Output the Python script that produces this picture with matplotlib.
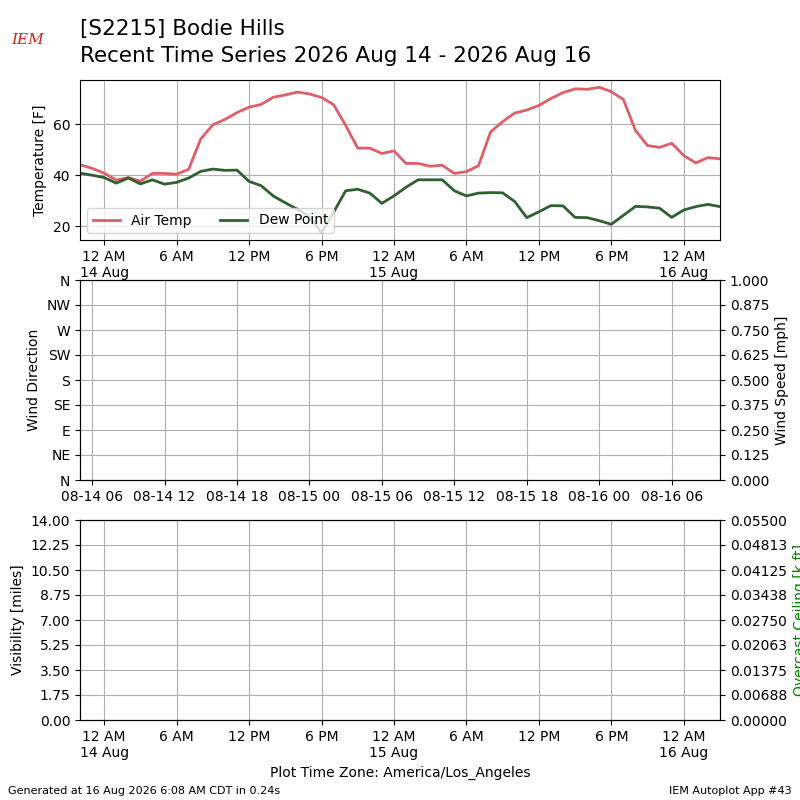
"""Recent time series for S2215 Bodie Hills"""

from datetime import timedelta, timezone

import matplotlib
matplotlib.use('Agg')
import matplotlib.dates as mdates
import matplotlib.pyplot as plt
import matplotlib.ticker as mticker
import pandas as pd

PDT = timezone(timedelta(hours=-7), 'PDT')

# hourly obs, local time, starting 13 Aug 22:00
valid = pd.date_range('2026-08-13 22:00', periods=54, freq='h', tz=PDT)
air_temp = [
    44.1, 42.7,
    40.8, 38.1, 39.1, 37.7, 40.7, 40.7, 40.4, 42.3, 54.2, 59.7, 61.8, 64.5,
    66.6, 67.7, 70.5, 71.4, 72.5, 71.8, 70.4, 67.6, 59.5, 50.6, 50.6, 48.5,
    49.5, 44.6, 44.6, 43.5, 43.9, 40.7, 41.4, 43.7, 56.9, 61.0, 64.3, 65.5,
    67.3, 70.0, 72.3, 73.8, 73.6, 74.4, 72.7, 69.6, 57.5, 51.6, 50.9, 52.5,
    47.7, 44.8, 46.9, 46.4,
]
dew_point = [
    40.8, 40.0,
    39.1, 36.9, 38.9, 36.6, 38.2, 36.5, 37.2, 38.9, 41.5, 42.4, 41.9, 42.0,
    37.6, 35.9, 31.9, 29.2, 26.7, 23.8, 17.5, 25.5, 33.9, 34.5, 33.0, 29.0,
    31.9, 35.3, 38.2, 38.2, 38.2, 33.9, 31.9, 33.0, 33.2, 33.1, 29.7, 23.4,
    25.7, 28.1, 28.0, 23.5, 23.4, 22.2, 20.8, 24.3, 27.8, 27.6, 27.1, 23.5,
    26.4, 27.7, 28.6, 27.7,
]
wind_dir_labels = ['N', 'NE', 'E', 'SE', 'S', 'SW', 'W', 'NW', 'N']


def local_fmt(x, pos=None):
    """12 AM with date, else hour only"""
    dt = mdates.num2date(x, tz=PDT)
    if dt.hour == 0:
        return dt.strftime('12 AM\n%-d %b')
    return dt.strftime('%-I %p')


def local_axis(ax):
    """Local time ticks"""
    ax.xaxis.set_major_locator(
        mdates.HourLocator(byhour=[0, 6, 12, 18], tz=PDT))
    ax.xaxis.set_major_formatter(mticker.FuncFormatter(local_fmt))


fig = plt.figure(figsize=(8, 8), dpi=100)

fig.text(0.1, 0.976, '[S2215] Bodie Hills\n'
         'Recent Time Series 2026 Aug 14 - 2026 Aug 16',
         fontsize=15.5, va='top', ha='left', linespacing=1.4)
fig.text(0.035, 0.945, 'IEM', color='#cc2222', fontsize=11,
         style='italic', family='serif', ha='center')

xmin = mdates.date2num(valid[0].to_pydatetime())
xmax = mdates.date2num(valid[-1].to_pydatetime())

# temperature
ax1 = fig.add_axes([0.1, 0.7, 0.8, 0.2])
ax1.plot(valid.to_pydatetime(), air_temp, color='#de5f68', lw=2,
         label='Air Temp')
ax1.plot(valid.to_pydatetime(), dew_point, color='#2f6130', lw=2,
         label='Dew Point')
ax1.set_xlim(xmin, xmax)
ax1.set_yticks([20, 40, 60])
ax1.set_ylabel('Temperature [F]')
ax1.grid(True)
local_axis(ax1)
ax1.legend(loc='lower left', ncol=2)

# wind
ax2 = fig.add_axes([0.1, 0.4, 0.8, 0.25])
ax2.set_xlim(xmin, xmax)
ax2.xaxis.set_major_locator(
    mdates.HourLocator(byhour=[0, 6, 12, 18], tz=timezone.utc))
ax2.xaxis.set_major_formatter(
    mdates.DateFormatter('%m-%d %H', tz=timezone.utc))
ax2.set_ylim(0, 360)
ax2.set_yticks(range(0, 361, 45))
ax2.set_yticklabels(wind_dir_labels)
ax2.set_ylabel('Wind Direction')
ax2.grid(True)
ax2b = ax2.twinx()
ax2b.set_ylim(0, 1)
ax2b.yaxis.set_major_locator(mticker.LinearLocator(9))
ax2b.yaxis.set_major_formatter(mticker.FormatStrFormatter('%.3f'))
ax2b.set_ylabel('Wind Speed [mph]')

# visibility / ceiling
ax3 = fig.add_axes([0.1, 0.1, 0.8, 0.25])
ax3.set_xlim(xmin, xmax)
ax3.set_ylim(0, 14)
ax3.yaxis.set_major_locator(mticker.LinearLocator(9))
ax3.yaxis.set_major_formatter(mticker.FormatStrFormatter('%.2f'))
ax3.set_ylabel('Visibility [miles]')
ax3.grid(True)
local_axis(ax3)
ax3.set_xlabel('Plot Time Zone: America/Los_Angeles')
ax3b = ax3.twinx()
ax3b.set_ylim(0, 0.055)
ax3b.yaxis.set_major_locator(mticker.LinearLocator(9))
ax3b.yaxis.set_major_formatter(mticker.FormatStrFormatter('%.5f'))
ax3b.set_ylabel('Overcast Ceiling [k ft]', color='g')

fig.text(0.01, 0.005, 'Generated at 16 Aug 2026 6:08 AM CDT in 0.24s',
         fontsize=8, ha='left', va='bottom')
fig.text(0.99, 0.005, 'IEM Autoplot App #43', fontsize=8, ha='right',
         va='bottom')

fig.savefig('out.png')
